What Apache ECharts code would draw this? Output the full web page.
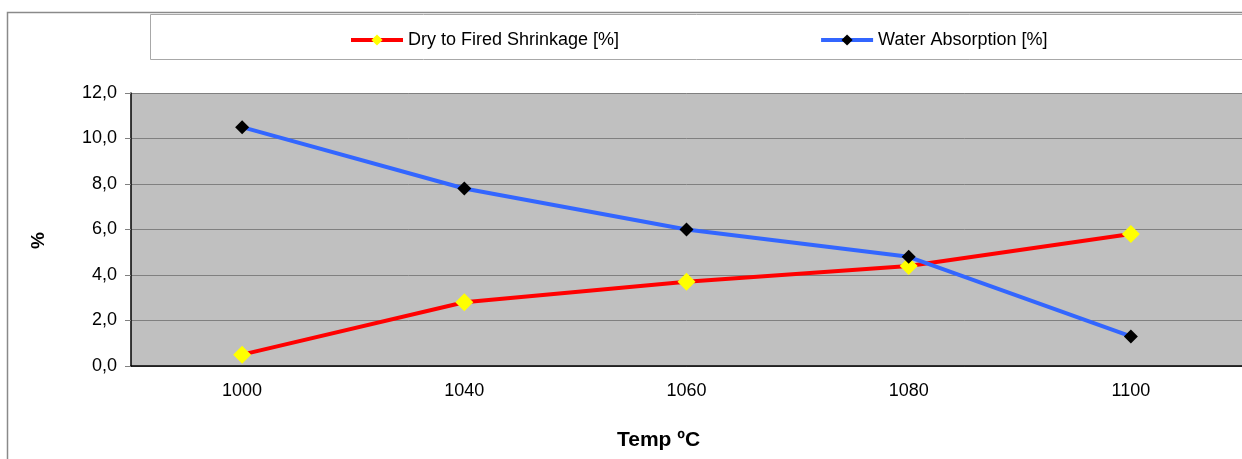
<!DOCTYPE html>
<html>
<head>
<meta charset="utf-8">
<script src="https://cdn.jsdelivr.net/npm/echarts@6/dist/echarts.min.js"></script>
<style>
  html, body { margin: 0; padding: 0; background: #fff; }
  #chart { width: 1242px; height: 459px; }
</style>
</head>
<body>
<div id="chart"></div>
<script>
// temperatures on the x axis
const temps = ['1000', '1040', '1060', '1080', '1100'];
// measured values, %
const shrinkage = [0.5, 2.8, 3.7, 4.4, 5.8];
const absorption = [10.5, 7.8, 6.0, 4.8, 1.3];

const chart = echarts.init(document.getElementById('chart'));
const font = 'Liberation Sans, Arial, sans-serif';

chart.setOption({
  animation: false,
  textStyle: { fontFamily: font },
  // frame of the chart area and the legend box
  graphic: [
    {
      type: 'rect',
      shape: { x: 7.5, y: 12.5, width: 1300, height: 500 },
      style: { fill: 'none', stroke: '#8a8a8a', lineWidth: 1.5 },
      silent: true
    },
    {
      type: 'rect',
      shape: { x: 150.5, y: 14.5, width: 1200, height: 45 },
      style: { fill: '#fff', stroke: '#a8a8a8', lineWidth: 1 },
      silent: true
    }
  ],
  legend: {
    top: 26,
    left: 344,
    itemWidth: 52,
    itemHeight: 14,
    itemGap: 200,
    lineStyle: { width: 4 },
    textStyle: { fontSize: 18, color: '#000', fontFamily: font },
    data: ['Dry to Fired Shrinkage [%]', 'Water Absorption [%]']
  },
  grid: {
    left: 131,
    top: 93,
    bottom: 93,
    right: -2,
    show: true,
    backgroundColor: '#c0c0c0',
    borderWidth: 0
  },
  xAxis: {
    type: 'category',
    data: temps,
    boundaryGap: true,
    name: 'Temp ºC',
    nameLocation: 'middle',
    nameGap: 64,
    nameTextStyle: {
      fontSize: 21, fontWeight: 'bold', color: '#000', fontFamily: font,
      padding: [0, 56, 0, 0]
    },
    axisLine: { lineStyle: { color: '#000', width: 1.5 } },
    axisTick: { length: 6, lineStyle: { color: '#808080' } },
    axisLabel: { fontSize: 18, color: '#000', margin: 16, fontFamily: font }
  },
  yAxis: {
    type: 'value',
    min: 0,
    max: 12,
    interval: 2,
    name: '%',
    nameLocation: 'middle',
    nameGap: 83,
    nameTextStyle: {
      fontSize: 19, fontWeight: 'bold', color: '#000', fontFamily: font,
      padding: [0, 22, 0, 0]
    },
    axisLine: { show: true, lineStyle: { color: '#000', width: 1.5 } },
    axisTick: { show: true, length: 6, lineStyle: { color: '#808080' } },
    axisLabel: {
      fontSize: 18,
      color: '#000',
      margin: 14,
      padding: [5, 0, 0, 0],
      fontFamily: font,
      formatter: v => v.toFixed(1).replace('.', ',')
    },
    splitLine: { lineStyle: { color: '#808080', width: 1 } }
  },
  series: [
    {
      name: 'Dry to Fired Shrinkage [%]',
      type: 'line',
      data: shrinkage,
      symbol: 'diamond',
      symbolSize: 18,
      lineStyle: { color: '#ff0000', width: 4 },
      itemStyle: { color: '#ffff00', borderWidth: 0 },
      z: 3
    },
    {
      name: 'Water Absorption [%]',
      type: 'line',
      data: absorption,
      symbol: 'diamond',
      symbolSize: 14,
      lineStyle: { color: '#3366ff', width: 4 },
      itemStyle: { color: '#000', borderWidth: 0 },
      z: 4
    }
  ]
});
</script>
</body>
</html>
